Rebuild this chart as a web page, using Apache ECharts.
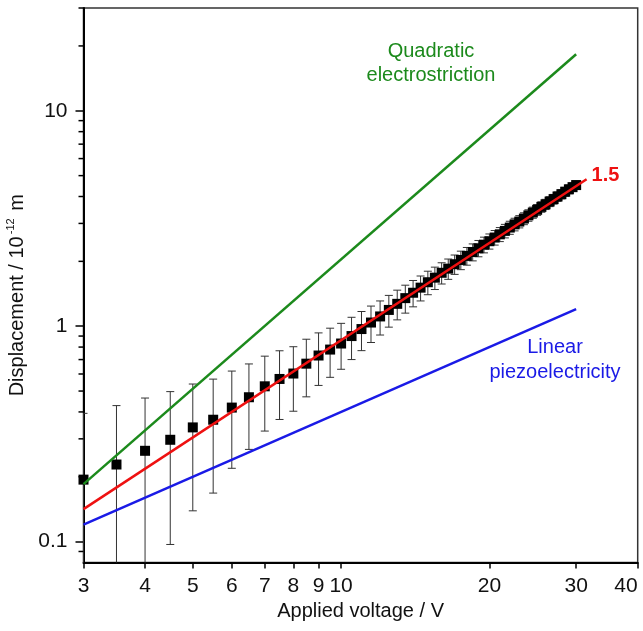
<!DOCTYPE html>
<html><head><meta charset="utf-8">
<script src="https://cdn.jsdelivr.net/npm/echarts@6/dist/echarts.min.js"></script>
<style>html,body{margin:0;padding:0;background:#fff}#c{width:643px;height:631px}</style>
</head><body><div id="c"></div>
<script>
// ---- data ----
const voltage = [3,3.5,4,4.5,5,5.5,6,6.5,7,7.5,8,8.5,9,9.5,10,10.5,11,11.5,12,12.5,13,13.5,14,14.5,15,15.5,16,16.5,17,17.5,18,18.5,19,19.5,20,20.5,21,21.5,22,22.5,23,23.5,24,24.5,25,25.5,26,26.5,27,27.5,28,28.5,29,29.5,30];
const displacement = [0.194,0.228,0.264,0.297,0.339,0.368,0.419,0.468,0.526,0.569,0.603,0.670,0.731,0.779,0.831,0.90,0.97,1.04,1.11,1.19,1.27,1.35,1.43,1.51,1.60,1.68,1.77,1.85,1.94,2.03,2.12,2.21,2.30,2.39,2.48,2.58,2.67,2.77,2.87,2.97,3.06,3.16,3.27,3.37,3.47,3.58,3.68,3.79,3.89,4.00,4.10,4.21,4.32,4.42,4.52];
const errorBar = [0.2,0.2,0.2,0.2,0.2,0.2,0.2,0.2,0.2,0.2,0.2,0.2,0.2,0.2,0.2,0.2,0.2,0.2,0.2,0.2,0.2,0.2,0.2,0.2,0.2,0.2,0.2,0.2,0.2,0.2,0.2,0.2,0.2,0.2,0.2,0.2,0.2,0.2,0.2,0.2,0.2,0.2,0.2,0.2,0.2,0.2,0.2,0.2,0.2,0.2,0.2,0.2,0.2,0.2,0.2];
const quadraticX = [3, 30];
const quadraticY = [0.185, 18.3];
const linearX = [3, 30];
const linearY = [0.12, 1.2];
const fitX = [3, 31.5];
const fitY = [0.1415, 4.81];
const fitLabel = '1.5';
const xTickLabels = [3,4,5,6,7,8,9,10,20,30,40];
const yTickLabels = [0.1,1,10];
const yMinorTicks = [0.09,0.2,0.3,0.4,0.5,0.6,0.7,0.8,0.9,2,3,4,5,6,7,8,9,20,30];
const quadraticText = ['Quadratic','electrostriction'];
const linearText = ['Linear','piezoelectricity'];
const xName = 'Applied voltage / V';

// ---- build ----
const FONT = '"Liberation Sans", Arial, Helvetica, sans-serif';
const GREEN = '#1c8a1c', BLUE = '#1a1ae6', RED = '#ee1111';
const X_MIN = 3;
const zip = (a, b) => a.map((v, i) => [v, b[i]]);
const pts = voltage.map((v, i) => [v, displacement[i], errorBar[i]]);

const chart = echarts.init(document.getElementById('c'), null, {renderer: 'canvas'});
const option = {
  animation: false,
  textStyle: {fontFamily: FONT},
  grid: {left: 83.5, right: 5.3, top: 8, bottom: 68.5, show: true, borderColor: '#333', borderWidth: 1.5, containLabel: false, outerBoundsMode: 'none'},
  xAxis: {
    type: 'log', logBase: 10, min: X_MIN, max: 40,
    axisLine: {show: true, lineStyle: {color: '#000', width: 2}},
    axisTick: {show: true, inside: false, length: 6, customValues: xTickLabels, lineStyle: {color: '#000', width: 1.5}},
    axisLabel: {show: true, customValues: xTickLabels, fontSize: 21, color: '#111', margin: 13, fontFamily: FONT, alignMaxLabel: 'right'},
    splitLine: {show: false}, minorTick: {show: false},
    name: xName, nameLocation: 'middle', nameGap: 39,
    nameTextStyle: {fontSize: 20, color: '#111', fontFamily: FONT}
  },
  yAxis: {
    type: 'log', logBase: 10, min: 0.08, max: 30,
    axisLine: {show: true, lineStyle: {color: '#000', width: 2}},
    axisTick: {show: true, inside: false, length: 8, customValues: yTickLabels, lineStyle: {color: '#000', width: 1.5}},
    axisLabel: {show: true, customValues: yTickLabels, fontSize: 21, color: '#111', margin: 16, fontFamily: FONT},
    splitLine: {show: false},
    name: '{a|Displacement / 10}{s|-12}{a| m}',
    nameLocation: 'middle', nameRotate: 90, nameGap: 52,
    nameTextStyle: {padding: [0, 20, 0, 0], rich: {
      a: {fontSize: 20, color: '#111', fontFamily: FONT, lineHeight: 24},
      s: {fontSize: 11, color: '#111', fontFamily: FONT, lineHeight: 24, verticalAlign: 'top', padding: [0, 2, 0, 2]}
    }}
  },
  series: [
    {
      // minor ticks of the y axis, placed through the axis scale
      type: 'custom', name: 'yMinorTicks', clip: false, z: 6, silent: true,
      data: yMinorTicks.map(v => [X_MIN, v]),
      renderItem: function (params, api) {
        const p = api.coord([api.value(0), api.value(1)]);
        return {type: 'line', shape: {x1: p[0] - 5, y1: p[1], x2: p[0], y2: p[1]}, style: {stroke: '#000', lineWidth: 1.5}};
      }
    },
    {
      type: 'custom', name: 'error', clip: true, z: 2,
      data: pts,
      renderItem: function (params, api) {
        const x = api.value(0), y = api.value(1), e = api.value(2);
        const top = api.coord([x, y + e]);
        const bot = api.coord([x, Math.max(y - e, 0.01)]);
        const h = 4;
        const st = {stroke: '#333', lineWidth: 1};
        return {type: 'group', children: [
          {type: 'line', shape: {x1: top[0], y1: top[1], x2: bot[0], y2: bot[1]}, style: st},
          {type: 'line', shape: {x1: top[0] - h, y1: top[1], x2: top[0] + h, y2: top[1]}, style: st},
          {type: 'line', shape: {x1: bot[0] - h, y1: bot[1], x2: bot[0] + h, y2: bot[1]}, style: st}
        ]};
      }
    },
    {
      type: 'scatter', name: 'data', z: 3,
      data: zip(voltage, displacement),
      symbol: 'rect', symbolSize: 10,
      itemStyle: {color: '#000', opacity: 1}
    },
    {
      type: 'line', name: 'quadratic', data: zip(quadraticX, quadraticY), z: 4,
      showSymbol: false, symbol: 'none', lineStyle: {color: GREEN, width: 2.5}
    },
    {
      type: 'line', name: 'linear', data: zip(linearX, linearY), z: 4,
      showSymbol: false, symbol: 'none', lineStyle: {color: BLUE, width: 2.5}
    },
    {
      type: 'line', name: 'fit', data: zip(fitX, fitY), z: 5,
      showSymbol: false, symbol: 'none', lineStyle: {color: RED, width: 2.5},
      endLabel: {show: true, formatter: fitLabel, color: RED, fontWeight: 'bold', fontSize: 20, fontFamily: FONT, distance: 5, offset: [0, -4]}
    }
  ],
  graphic: [
    {type: 'text', z: 10, style: {text: quadraticText.join('\n'), fill: GREEN, font: '20px ' + FONT, align: 'center', lineHeight: 24}, x: 431, y: 39},
    {type: 'text', z: 10, style: {text: linearText.join('\n'), fill: BLUE, font: '20px ' + FONT, align: 'center', lineHeight: 25}, x: 555, y: 335}
  ]
};
chart.setOption(option);
</script></body></html>
